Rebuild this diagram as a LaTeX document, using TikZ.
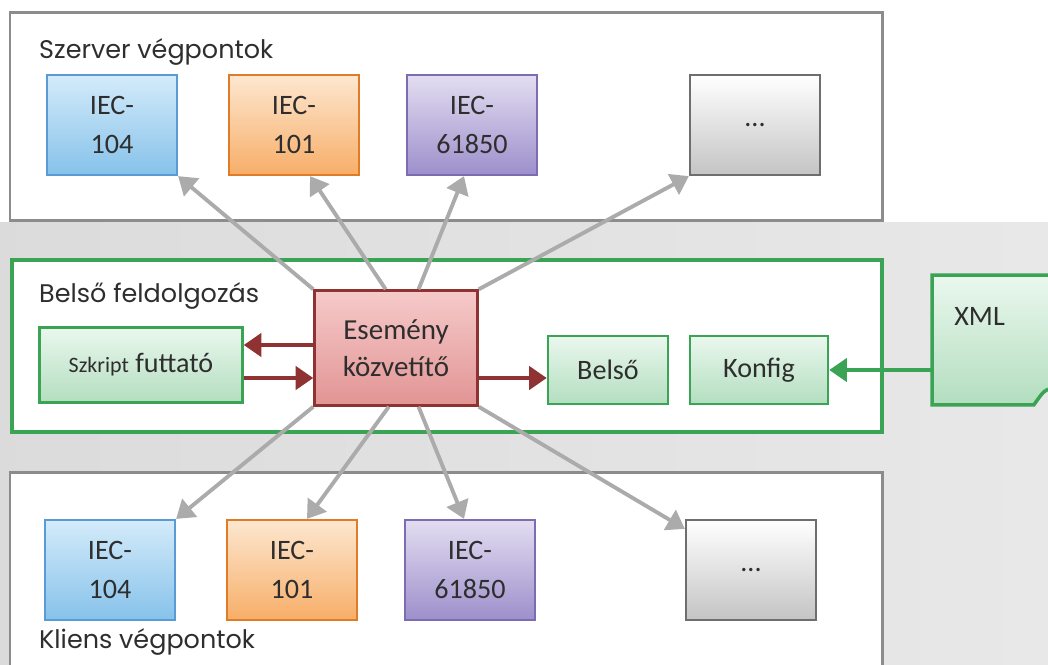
\documentclass[tikz,border=0pt]{standalone}
\usepackage{fontspec}
\setmainfont{Carlito}
\newfontfamily\fejfont{Poppins}
\usetikzlibrary{arrows.meta,calc}
\definecolor{keret}{HTML}{8C8C8C}
\definecolor{zold}{HTML}{3AA354}
\definecolor{zoldfel}{HTML}{EAF7EE}
\definecolor{zoldle}{HTML}{B3DEBF}
\definecolor{piros}{HTML}{8E3232}
\definecolor{pirosfel}{HTML}{F6CACA}
\definecolor{pirosle}{HTML}{E29494}
\definecolor{kek}{HTML}{5B9BD5}
\definecolor{kekfel}{HTML}{D4EBFA}
\definecolor{kekle}{HTML}{86C2EA}
\definecolor{narancs}{HTML}{E07B28}
\definecolor{narancsfel}{HTML}{FDE7D0}
\definecolor{narancsle}{HTML}{F7AE68}
\definecolor{lila}{HTML}{7E6CB2}
\definecolor{lilafel}{HTML}{E3DDF1}
\definecolor{lilale}{HTML}{9D8FCB}
\definecolor{szurke}{HTML}{6E6E6E}
\definecolor{szurkele}{HTML}{C4C4C4}
\definecolor{nyilszurke}{HTML}{ABABAB}
\definecolor{betu}{HTML}{2E2E2E}
\tikzset{
  vegpont/.style={draw, line width=1.3pt, minimum width=2.6cm, minimum height=2cm,
    inner sep=0pt, align=center, text=betu, font=\fontsize{16}{22}\selectfont},
  kekbox/.style={vegpont, draw=kek, top color=kekfel, bottom color=kekle},
  narancsbox/.style={vegpont, draw=narancs, top color=narancsfel, bottom color=narancsle},
  lilabox/.style={vegpont, draw=lila, top color=lilafel, bottom color=lilale},
  szurkebox/.style={vegpont, draw=szurke, top color=white, bottom color=szurkele},
  zoldbox/.style={draw=zold, line width=1.4pt, top color=zoldfel, bottom color=zoldle,
    inner sep=0pt, text=betu, font=\fontsize{16}{20}\selectfont},
  feldolgozo/.style={draw=piros, line width=1.4pt, top color=pirosfel, bottom color=pirosle,
    minimum width=3.26cm, minimum height=2.3cm, inner sep=0pt, align=center,
    text=betu, font=\fontsize{16.5}{21}\selectfont},
  fej/.style={anchor=base west, font=\fejfont\fontsize{14.5}{16}\selectfont, text=betu},
  szurkenyil/.style={draw=nyilszurke, line width=2.2pt, -{Triangle[width=13pt,length=10pt]}},
  pirosnyil/.style={draw=piros, line width=2.8pt, -{Triangle[width=13pt,length=10pt]}},
  zoldnyil/.style={draw=zold, line width=2.4pt, -{Triangle[width=13pt,length=10pt]}}
}
\begin{document}
\begin{tikzpicture}[x=0.02cm, y=-0.02cm]
  \useasboundingbox (0,0) rectangle (1048,664);
  % hatter
  \fill[white] (0,0) rectangle (1048,222);
  \shade[left color=gray!28, right color=gray!18] (0,222) rectangle (1048,664);
  % keretek
  \draw[keret, line width=1.7pt, fill=white] (10,12) rectangle (882,220);
  \draw[zold, line width=2pt, fill=white] (12,260) rectangle (882,432);
  \draw[keret, line width=1.7pt, fill=white] (10,472) rectangle (882,690);
  \node[fej] (szfej) at (33,58) {Szerver végpontok};
  \node[fej] (bfej) at (33,302) {Belső feldolgozás};
  \node[fej] (kfej) at (33,648) {Kliens végpontok};
  % szerver vegpontok
  \node[kekbox] (s104) at (112,125) {IEC-\\104};
  \node[narancsbox] (s101) at (294,125) {IEC-\\101};
  \node[lilabox] (s61850) at (472,125) {IEC-\\61850};
  \node[szurkebox] (sdots) at (755,125) {...};
  % kliens vegpontok
  \node[kekbox] (c104) at (110,570) {IEC-\\104};
  \node[narancsbox] (c101) at (292,570) {IEC-\\101};
  \node[lilabox] (c61850) at (470,570) {IEC-\\61850};
  \node[szurkebox] (cdots) at (751,570) {...};
  % belso feldolgozas
  \node[feldolgozo] (esem) at (396,348) {Esemény\\közvetítő};
  \node[zoldbox, minimum width=4.06cm, minimum height=1.5cm] (szkript) at (141,365)
    {{\fontsize{12.5}{14}\selectfont Szkript} futtató};
  \node[zoldbox, minimum width=2.4cm, minimum height=1.36cm] (belso) at (608,370) {Belső};
  \node[zoldbox, minimum width=2.76cm, minimum height=1.36cm] (konfig) at (759,370) {Konfig};
  \node[minimum width=2.34cm, minimum height=2.58cm, inner sep=0pt] (xml) at (991,340) {};
  \draw[zold, line width=2pt, top color=zoldfel, bottom color=zoldle]
    (xml.north west) -- (xml.north east) -- ($(xml.south east)+(0,-16)$)
    .. controls ($(xml.south east)+(-6,-14)$) .. ($(xml.south east)+(-16,0)$)
    -- (xml.south west) -- cycle;
  \node[anchor=base west, font=\fontsize{16}{18}\selectfont, text=betu] (xmltxt)
    at ($(xml.north west)+(16,50)$) {XML};
  % nyilak
  \draw[szurkenyil] (esem.north west) -- (s104.south east);
  \draw[szurkenyil] (esem.100) -- ($(s101.south)+(16,0)$);
  \draw[szurkenyil] (esem.69) -- ($(s61850.south)+(-8,0)$);
  \draw[szurkenyil] (esem.north east) -- (sdots.south west);
  \draw[szurkenyil] (esem.south west) -- (c104.north east);
  \draw[szurkenyil] (esem.263) -- ($(c101.north)+(15,0)$);
  \draw[szurkenyil] (esem.291) -- ($(c61850.north)+(-6,0)$);
  \draw[szurkenyil] (esem.south east) -- ($(cdots.north west)+(0,10)$);
  \draw[pirosnyil] ($(esem.west)+(0,-3)$) -- ($(szkript.east)+(0,-20)$);
  \draw[pirosnyil] ($(szkript.east)+(0,13)$) -- ($(esem.west)+(0,30)$);
  \draw[pirosnyil] ($(esem.east)+(0,30)$) -- ($(belso.west)+(0,8)$);
  \draw[zoldnyil] (xml.west |- konfig.east) -- (konfig.east);
\end{tikzpicture}
\end{document}
